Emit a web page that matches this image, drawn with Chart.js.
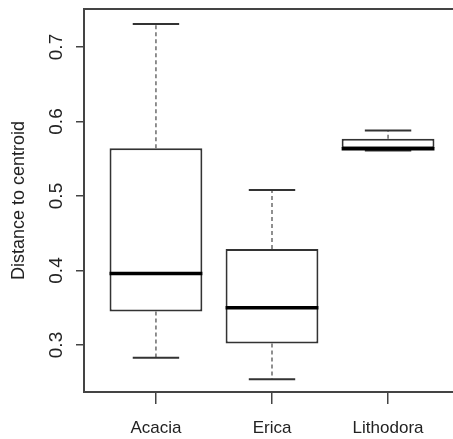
<!DOCTYPE html>
<html lang="en">
<head>
    <meta charset="UTF-8">
    <title>Distance to centroid</title>
    <script src="https://cdn.jsdelivr.net/npm/chart.js"></script>
    <style>
        html, body {
            margin: 0;
            overflow: hidden;
            background: #fff;
        }
        .clip {
            width: 453px;
            height: 439px;
            overflow: hidden;
        }
        .wrap {
            width: 490px;
            height: 439px;
        }
    </style>
</head>
<body>
    <div class="clip">
        <div class="wrap">
            <canvas id="myChart"></canvas>
        </div>
    </div>

    <script>
const categories = ['Acacia', 'Erica', 'Lithodora'];
const whiskerLow = [0.283, 0.254, 0.561];
const q1 = [0.345, 0.302, 0.564];
const median = [0.396, 0.350, 0.5635];
const q3 = [0.564, 0.429, 0.577];
const whiskerHigh = [0.731, 0.508, 0.588];
const yTicks = [0.3, 0.4, 0.5, 0.6, 0.7];

const lineColor = '#333';

// whiskers, caps and medians, placed with the chart's own scales
const boxPlugin = {
    id: 'boxParts',
    afterDatasetsDraw(chart) {
        const ctx = chart.ctx;
        const x = chart.scales.x;
        const y = chart.scales.y;
        ctx.save();
        categories.forEach((c, i) => {
            const cx = x.getPixelForValue(i + 1);
            const capHalf = x.getPixelForValue(i + 1.2) - cx;

            // dashed whiskers
            ctx.strokeStyle = '#555';
            ctx.lineWidth = 1.3;
            ctx.setLineDash([4, 3]);
            ctx.beginPath();
            ctx.moveTo(cx, y.getPixelForValue(q3[i]));
            ctx.lineTo(cx, y.getPixelForValue(whiskerHigh[i]));
            ctx.moveTo(cx, y.getPixelForValue(q1[i]));
            ctx.lineTo(cx, y.getPixelForValue(whiskerLow[i]));
            ctx.stroke();

            // caps
            ctx.setLineDash([]);
            ctx.strokeStyle = lineColor;
            ctx.lineWidth = 2;
            ctx.beginPath();
            [whiskerHigh[i], whiskerLow[i]].forEach(v => {
                const py = y.getPixelForValue(v);
                ctx.moveTo(cx - capHalf, py);
                ctx.lineTo(cx + capHalf, py);
            });
            ctx.stroke();

            // median
            const my = y.getPixelForValue(median[i]);
            ctx.strokeStyle = '#000';
            ctx.lineWidth = 3.5;
            ctx.beginPath();
            ctx.moveTo(x.getPixelForValue(i + 0.6), my);
            ctx.lineTo(x.getPixelForValue(i + 1.4), my);
            ctx.stroke();
        });
        ctx.restore();
    },
    afterDraw(chart) {
        const a = chart.chartArea;
        const ctx = chart.ctx;
        ctx.save();
        ctx.strokeStyle = '#444';
        ctx.lineWidth = 2;
        ctx.strokeRect(a.left, a.top, a.right - a.left, a.bottom - a.top);
        ctx.restore();
    }
};

const ctx = document.getElementById('myChart');
new Chart(ctx, {
    type: 'bar',
    data: {
        datasets: [{
            data: categories.map((c, i) => ({ x: i + 1, y: [q1[i], q3[i]] })),
            backgroundColor: '#fff',
            borderColor: lineColor,
            borderWidth: 2,
            borderSkipped: false,
            barPercentage: 1,
            categoryPercentage: 0.8
        }]
    },
    plugins: [boxPlugin],
    options: {
        responsive: true,
        maintainAspectRatio: false,
        animation: false,
        layout: { padding: { top: 9, right: 30, left: 0, bottom: 0 } },
        plugins: {
            legend: { display: false },
            tooltip: { enabled: false }
        },
        scales: {
            x: {
                type: 'linear',
                min: 0.38,
                max: 3.62,
                offset: false,
                afterBuildTicks: s => { s.ticks = categories.map((c, i) => ({ value: i + 1 })); },
                afterFit: s => { s.height = 47; s.paddingLeft = 0; s.paddingRight = 0; },
                border: { display: false },
                grid: { offset: false, drawOnChartArea: false, tickLength: 12, color: '#444', lineWidth: 1.5 },
                ticks: {
                    padding: 14,
                    color: '#222',
                    maxRotation: 0,
                    font: { family: 'Liberation Sans, Arial', size: 17 },
                    callback: v => categories[v - 1]
                }
            },
            y: {
                min: 0.2369,
                max: 0.751,
                afterBuildTicks: s => { s.ticks = yTicks.map(v => ({ value: v })); },
                afterFit: s => { s.width = 84; s.paddingTop = 0; s.paddingBottom = 0; },
                border: { display: false },
                grid: { drawOnChartArea: false, tickLength: 8, color: '#444', lineWidth: 1.5 },
                ticks: {
                    minRotation: 90,
                    maxRotation: 90,
                    crossAlign: 'center',
                    padding: 6,
                    color: '#222',
                    font: { family: 'Liberation Sans, Arial', size: 19 },
                    callback: v => v.toFixed(1)
                },
                title: {
                    display: true,
                    text: 'Distance to centroid',
                    color: '#222',
                    padding: { top: 8, bottom: 0 },
                    font: { family: 'Liberation Sans, Arial', size: 18 }
                }
            }
        }
    }
});
    </script>
</body>
</html>
